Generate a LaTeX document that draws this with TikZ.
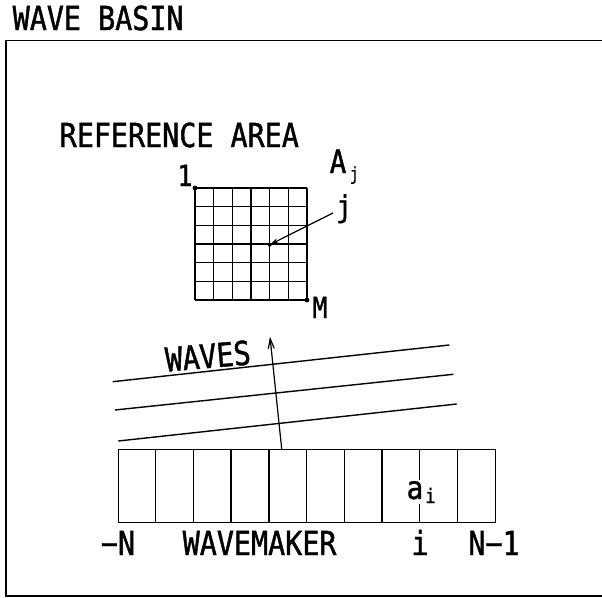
\documentclass[tikz,border=0pt]{standalone}
\usepackage{fontspec}
\usetikzlibrary{arrows.meta}
\newfontfamily\pf[FakeStretch=0.86,FakeBold=1.2]{DejaVu Sans Mono}
\begin{document}
\begin{tikzpicture}[x=1pt,y=-1pt,line width=1.4pt,
  lbl/.style={font=\pf\fontsize{33}{33}\selectfont, inner sep=0pt, anchor=base west},
  sml/.style={font=\pf\fontsize{29}{29}\selectfont, inner sep=0pt, anchor=base},
  subl/.style={font=\pf\fontsize{18}{18}\selectfont, inner sep=0pt, anchor=base west},
  dotc/.style={fill=black}]
\useasboundingbox (0,0) rectangle (602,597);
% basin
\node[lbl] (basin) at (12,30) {WAVE BASIN};
\coordinate (btr) at (603,40.5);
\coordinate (btl) at (6,40.5);
\coordinate (bbl) at (6,596);
\coordinate (bbr) at (603,596);
\draw[line width=1.6pt] (btr) -- (btl) -- (bbl) -- (bbr);
% reference area
\node[lbl] (refarea) at (59,147) {REFERENCE AREA};
\foreach \k in {0,...,6} {
  \draw (195+18.667*\k,188) -- (195+18.667*\k,300);
  \draw (195,188+18.667*\k) -- (307,188+18.667*\k);
}
\coordinate (g1) at (195,188);
\coordinate (gM) at (307,300);
\coordinate (gj) at (269.7,244.7);
\fill[dotc] (g1) circle (2.4);
\fill[dotc] (gM) circle (2.4);
\fill[dotc] (gj) circle (2);
\node[sml] (one) at (185,186) {1};
\node[sml] (Mlab) at (320,318) {M};
\node[lbl, font=\pf\fontsize{32}{32}\selectfont] (Alab) at (329,173) {A};
\node[subl] (Asub) at (349,180) {j};
\node[sml, font=\pf\fontsize{30}{30}\selectfont] (jlab) at (344,217) {j};
\coordinate (jstart) at (333,213);
\draw[line width=1.2pt,-{Stealth[length=9pt,width=5pt]}] (jstart) -- (gj);
% waves
\coordinate (w1a) at (112.7,381.7); \coordinate (w1b) at (449.3,345);
\coordinate (w2a) at (115,410);     \coordinate (w2b) at (453.3,374.3);
\coordinate (w3a) at (118.3,441);   \coordinate (w3b) at (456.7,404);
\draw (w1a) -- (w1b);
\draw (w2a) -- (w2b);
\draw (w3a) -- (w3b);
\node[lbl, anchor=center, rotate=5] (waves) at (208,356) {WAVES};
% wavemaker
\node[draw, line width=1.4pt, minimum width=377pt, minimum height=73pt, inner sep=0pt, anchor=north west] (wm) at (118,449) {};
\foreach \k in {1,...,9} {
  \draw (118+37.7*\k,449) -- (118+37.7*\k,522);
}
\coordinate (arrbase) at (281.7,449);
\coordinate (arrtip) at (270,336.7);
\draw[line width=1.2pt,-{Straight Barb[length=10pt,width=6pt]}] (arrbase) -- (arrtip);
\node[lbl, anchor=base west, fill=white, inner sep=1pt, font=\pf\fontsize{32}{32}\selectfont] (ai) at (405,499) {a\hspace{2pt}\raisebox{-4pt}{\fontsize{20}{20}\selectfont i}};
% labels
\node[lbl, anchor=base] (mN) at (118,555) {−N};
\node[lbl] (wmlab) at (182,555) {WAVEMAKER};
\node[lbl, anchor=base] (ilab) at (420,555) {i};
\node[lbl, anchor=base] (N1) at (494,555) {N−1};
\end{tikzpicture}
\end{document}
